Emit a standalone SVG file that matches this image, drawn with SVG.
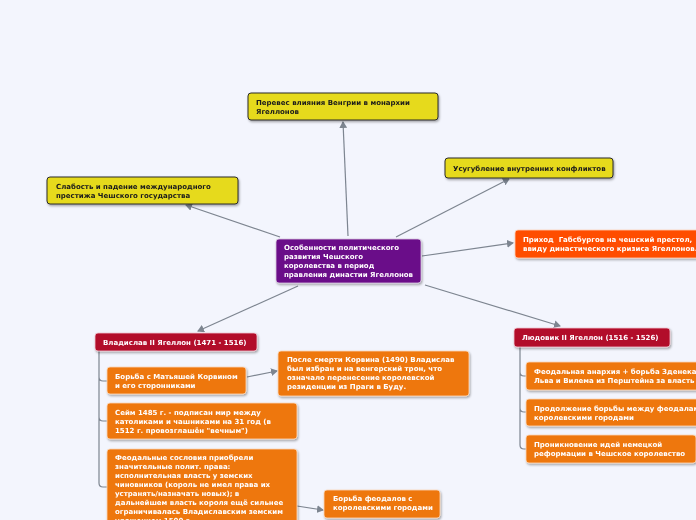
<svg xmlns="http://www.w3.org/2000/svg" width="696" height="520" viewBox="0 0 696 520">
<defs>
<marker id="ah" markerWidth="8" markerHeight="8" refX="6" refY="4" orient="auto" markerUnits="userSpaceOnUse">
<path d="M0,0 L7,4 L0,8 Z" fill="#7d8590"/>
</marker>
<filter id="sh" x="-10%" y="-20%" width="130%" height="160%">
<feDropShadow dx="1" dy="1.5" stdDeviation="1" flood-color="#000" flood-opacity="0.35"/>
</filter>
</defs>
<style>
text{font-family:"DejaVu Sans","Liberation Sans",sans-serif;font-weight:bold;font-size:7px}
.y rect{fill:#e6da1f;stroke:#2a2a2a;stroke-width:1}
.y text{fill:#1a1a1a}
.w text{fill:#ffffff}
.p rect{fill:#6b0a89;stroke:#d8c8e0;stroke-width:0.8}
.r rect{fill:#ff4d00;stroke:#ffd0b8;stroke-width:0.8}
.c rect{fill:#b20a2c;stroke:#f0c8d0;stroke-width:0.8}
.o rect{fill:#ee7711;stroke:#fbd8b8;stroke-width:0.8}
.ln{stroke:#7d8590;stroke-width:1.2;fill:none}
</style>
<rect width="696" height="520" fill="#f3f5fd"/>
<g id="connectors">
<line class="ln" x1="348" y1="236" x2="343" y2="122" marker-end="url(#ah)"/>
<line class="ln" x1="396" y1="237" x2="509" y2="179" marker-end="url(#ah)"/>
<line class="ln" x1="280" y1="237" x2="186" y2="205" marker-end="url(#ah)"/>
<line class="ln" x1="422" y1="256" x2="513" y2="243" marker-end="url(#ah)"/>
<line class="ln" x1="298" y1="286" x2="198" y2="331" marker-end="url(#ah)"/>
<line class="ln" x1="425" y1="285" x2="560" y2="326" marker-end="url(#ah)"/>
<line class="ln" x1="247" y1="377" x2="277" y2="371" marker-end="url(#ah)"/>
<line class="ln" x1="297" y1="506" x2="323" y2="510" marker-end="url(#ah)"/>
<path class="ln" d="M99,351 L99,483 Q99,487 103,487 L107,487 M99,377 Q99,381 103,381 L107,381 M99,417 Q99,421 103,421 L107,421"/>
<path class="ln" d="M520,347 L520,445 Q520,449 524,449 L526,449 M520,372 Q520,376 524,376 L526,376 M520,408 Q520,412 524,412 L526,412"/>
</g>
<g id="n-top" class="y" filter="url(#sh)">
<rect x="248" y="93" width="190" height="27" rx="3"/>
<text x="256" y="105">Перевес влияния Венгрии в монархии</text>
<text x="256" y="114">Ягеллонов</text>
</g>
<g id="n-conflicts" class="y" filter="url(#sh)">
<rect x="445" y="158" width="168" height="20" rx="3"/>
<text x="453" y="171">Усугубление внутренних конфликтов</text>
</g>
<g id="n-weak" class="y" filter="url(#sh)">
<rect x="47" y="177" width="191" height="27" rx="3"/>
<text x="56" y="189">Слабость и падение международного</text>
<text x="56" y="198">престижа Чешского государства</text>
</g>
<g id="n-center" class="p w" filter="url(#sh)">
<rect x="276" y="239" width="145" height="44" rx="3"/>
<text x="284" y="250">Особенности политического</text>
<text x="284" y="259">развития Чешского</text>
<text x="284" y="268">королевства в период</text>
<text x="284" y="277">правления династии Ягеллонов</text>
</g>
<g id="n-habsburg" class="r w" filter="url(#sh)">
<rect x="515" y="230" width="186" height="28" rx="3"/>
<text x="523" y="242" xml:space="preserve">Приход  Габсбургов на чешский престол,</text>
<text x="523" y="251">ввиду династического кризиса Ягеллонов.</text>
</g>
<g id="n-vladislav" class="c w" filter="url(#sh)">
<rect x="95" y="333" width="162" height="18" rx="3"/>
<text x="103" y="345">Владислав II Ягеллон (1471 - 1516)</text>
</g>
<g id="n-ludvik" class="c w" filter="url(#sh)">
<rect x="514" y="328" width="156" height="19" rx="3"/>
<text x="522" y="340">Людовик II Ягеллон (1516 - 1526)</text>
</g>
<g id="n-korvin" class="o w" filter="url(#sh)">
<rect x="107" y="367" width="139" height="27" rx="3"/>
<text x="115" y="379">Борьба с Матьяшей Корвином</text>
<text x="115" y="388">и его сторонниками</text>
</g>
<g id="n-posle" class="o w" filter="url(#sh)">
<rect x="278" y="351" width="191" height="45" rx="3"/>
<text x="287" y="362">После смерти Корвина (1490) Владислав</text>
<text x="287" y="371">был избран и на венгерский трон, что</text>
<text x="287" y="380">означало перенесение королевской</text>
<text x="287" y="389">резиденции из Праги в Буду.</text>
</g>
<g id="n-seim" class="o w" filter="url(#sh)">
<rect x="107" y="403" width="190" height="36" rx="3"/>
<text x="115" y="415">Сейм 1485 г. - подписан мир между</text>
<text x="115" y="424">католиками и чашниками на 31 год (в</text>
<text x="115" y="433">1512 г. провозглашён "вечным")</text>
</g>
<g id="n-feod" class="o w" filter="url(#sh)">
<rect x="107" y="449" width="190" height="80" rx="3"/>
<text x="115" y="460">Феодальные сословия приобрели</text>
<text x="115" y="469">значительные полит. права:</text>
<text x="115" y="478">исполнительная власть у земских</text>
<text x="115" y="487">чиновников (король не имел права их</text>
<text x="115" y="496">устранять/назначать новых); в</text>
<text x="115" y="505">дальнейшем власть короля ещё сильнее</text>
<text x="115" y="514">ограничивалась Владиславским земским</text>
<text x="115" y="523">уложением 1500 г.</text>
</g>
<g id="n-borba-feod" class="o w" filter="url(#sh)">
<rect x="324" y="490" width="116" height="28" rx="3"/>
<text x="333" y="501">Борьба феодалов с</text>
<text x="333" y="510">королевскими городами</text>
</g>
<g id="n-anarch" class="o w" filter="url(#sh)">
<rect x="526" y="362" width="176" height="28" rx="3"/>
<text x="534" y="374">Феодальная анархия + борьба Зденека</text>
<text x="534" y="383">Льва и Вилема из Перштейна за власть</text>
</g>
<g id="n-prodol" class="o w" filter="url(#sh)">
<rect x="526" y="399" width="176" height="27" rx="3"/>
<text x="534" y="411">Продолжение борьбы между феодалами и</text>
<text x="534" y="420">королевскими городами</text>
</g>
<g id="n-reform" class="o w" filter="url(#sh)">
<rect x="526" y="435" width="170" height="28" rx="3"/>
<text x="534" y="447">Проникновение идей немецкой</text>
<text x="534" y="456">реформации в Чешское королевство</text>
</g>
</svg>
